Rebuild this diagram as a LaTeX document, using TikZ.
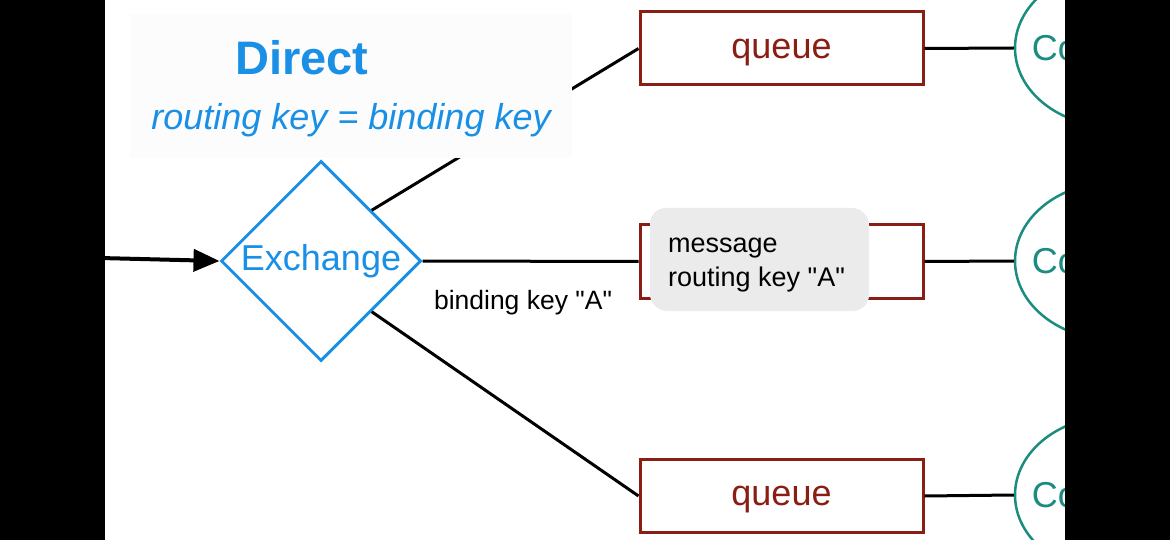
\documentclass[tikz,border=0pt]{standalone}
\usepackage{fontspec}
\setmainfont{Liberation Sans}
\newfontfamily\plainsans{Liberation Sans}
\usetikzlibrary{shapes.geometric,arrows.meta}
\definecolor{exblue}{HTML}{1A8FE6}
\definecolor{qred}{HTML}{8B1E14}
\definecolor{cteal}{HTML}{1A8C80}
\definecolor{msggray}{HTML}{EBEBEB}
\begin{document}
\begin{tikzpicture}[x=1pt,y=-1pt,
  queuebox/.style={draw=qred,line width=3pt,minimum width=283pt,minimum height=73pt,inner sep=0pt,text depth=0pt,text=qred,font=\fontsize{36}{40}\selectfont},
  consumer/.style={ellipse,draw=cteal,line width=2.5pt,minimum width=200pt,minimum height=158pt,inner sep=0pt,text=cteal,font=\fontsize{36}{40}\selectfont},
  exch/.style={diamond,aspect=1,draw=exblue,line width=3pt,minimum width=200pt,minimum height=200pt,inner sep=0pt,text=exblue,font=\fontsize{36}{40}\selectfont},
  link/.style={line width=3pt,black},
  msgtext/.style={anchor=base west,inner sep=0pt,font=\plainsans\fontsize{27}{33}\selectfont},
  lbl/.style={inner sep=0pt,font=\plainsans\fontsize{26.5}{30}\selectfont}]
\useasboundingbox (0,0) rectangle (1170,540);
\fill[white] (0,0) rectangle (1170,540);
% nodes
\node[exch] (ex) at (321,261) {Exchange};
\node[queuebox] (q1) at (781.5,48.5) {queue};
\node[queuebox] (q2) at (781.5,261.5) {};
\node[queuebox] (q3) at (781.5,496) {queue};
\node[consumer] (c1) at (1115,48) {\makebox[0pt]{Consumer}};
\node[consumer] (c2) at (1115,261) {\makebox[0pt]{Consumer}};
\node[consumer] (c3) at (1115,495) {\makebox[0pt]{Consumer}};
\coordinate (src) at (100,258);
% connectors
\draw[line width=4pt,-{Triangle[length=26pt,width=22pt]}] (src) -- (ex.west);
\draw[link] (ex.north east) -- (q1.west);
\draw[link] (ex.east) -- (q2.west);
\draw[link] (ex.south east) -- (q3.west);
\draw[link] (q1.east) -- (c1.west);
\draw[link] (q2.east) -- (c2.west);
\draw[link] (q3.east) -- (c3.west);
\node[lbl] (bk) at (523,303) {binding key "A"};
% title panel
\fill[black!1] (130,14) rectangle (572,158);
\node[inner sep=0pt,text=exblue,font=\fontsize{47}{50}\selectfont\bfseries] (title) at (302,58) {Direct};
\node[inner sep=0pt,text=exblue,font=\fontsize{36}{40}\selectfont\itshape] (sub) at (351,120) {routing key = binding key};
% message bubble
\fill[black!7,rounded corners=16pt] (651,209) rectangle (869,311);
\node[fill=msggray,rounded corners=16pt,minimum width=218pt,minimum height=102pt,inner sep=0pt] (msg) at (759,259) {};
\node[msgtext] (m1) at (668,253) {message};
\node[msgtext] (m2) at (668,286) {routing key "A"};
% side bars
\fill[black] (0,0) rectangle (105,540);
\fill[black] (1065,0) rectangle (1170,540);
\end{tikzpicture}
\end{document}
